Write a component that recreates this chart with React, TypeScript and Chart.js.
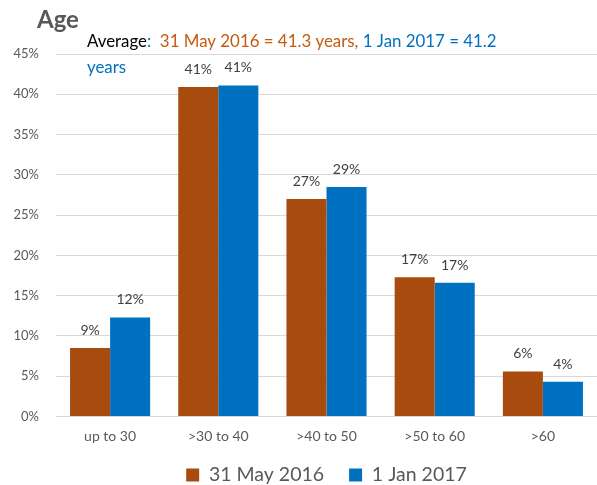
import React, { useEffect, useRef } from "react";
import { Chart, registerables } from "chart.js";

Chart.register(...registerables);

const categories = ["up to 30", ">30 to 40", ">40 to 50", ">50 to 60", ">60"];
const seriesMay2016 = [8.5, 40.9, 27.0, 17.3, 5.6];
const seriesJan2017 = [12.3, 41.1, 28.5, 16.6, 4.3];
const seriesNames = ["31 May 2016", "1 Jan 2017"];
const yTicks = [0, 5, 10, 15, 20, 25, 30, 35, 40, 45];
const titleText = "Age";
const subtitleParts = [
  { text: "Average", color: "#000000" },
  { text: ":  ", color: "#0070C0" },
  { text: "31 May 2016 = 41.3 years, ", color: "#C55A11" },
  { text: "1 Jan 2017 = 41.2", color: "#0070C0" },
];
const subtitleLine2 = { text: "years", color: "#0070C0" };

const ORANGE = "#A84B0F";
const BLUE = "#0070C0";
const FONT = "Lato, 'Open Sans', sans-serif";
const LEGEND_FONT = 19.5;
const LEGEND_PAD = 25;

const titlePlugin = {
  id: "titleText",
  afterDraw(chart: any) {
    const ctx = chart.ctx;
    ctx.save();
    ctx.textBaseline = "alphabetic";
    ctx.textAlign = "left";
    ctx.fillStyle = "#595959";
    ctx.font = `bold 24px ${FONT}`;
    ctx.fillText(titleText, 37, 28);
    ctx.font = `20px ${FONT}`;
    const full = subtitleParts.map((p) => p.text).join("");
    const w = ctx.measureText(full).width;
    const size = (20 * 410) / w;
    ctx.font = `${size}px ${FONT}`;
    let x = 87;
    for (const p of subtitleParts) {
      ctx.fillStyle = p.color;
      ctx.fillText(p.text, x, 47);
      x += ctx.measureText(p.text).width;
    }
    ctx.fillStyle = subtitleLine2.color;
    ctx.fillText(subtitleLine2.text, 87, 73);
    ctx.restore();
  },
};

const dataLabelPlugin = {
  id: "dataLabels",
  afterDatasetsDraw(chart: any) {
    const ctx = chart.ctx;
    ctx.save();
    ctx.font = `14px ${FONT}`;
    ctx.fillStyle = "#404040";
    ctx.textAlign = "center";
    ctx.textBaseline = "alphabetic";
    chart.data.datasets.forEach((ds: any, i: number) => {
      const meta = chart.getDatasetMeta(i);
      meta.data.forEach((bar: any, j: number) => {
        const v = ds.data[j] as number;
        ctx.fillText(Math.round(v) + "%", bar.x, bar.y - 13);
      });
    });
    ctx.restore();
  },
};

const legendFitPlugin = {
  id: "legendFit",
  beforeInit(chart: any) {
    const legend = chart.legend;
    if (!legend) return;
    const orig = legend.fit;
    legend.fit = function () {
      orig.call(this);
      this.height = 39;
    };
  },
  afterLayout(chart: any) {
    const legend = chart.legend;
    if (!legend) return;
    const itemH = LEGEND_FONT * 1.2;
    legend.top = 477 - LEGEND_PAD - itemH / 2;
    legend.bottom = chart.height;
    legend.left = chart.chartArea.left;
    legend.right = chart.chartArea.right;
  },
};

export default function App() {
  const ref = useRef<HTMLCanvasElement | null>(null);
  useEffect(() => {
    document.body.style.margin = "0";
    if (!ref.current) return;
    const chart = new Chart(ref.current, {
      type: "bar",
      data: {
        labels: categories,
        datasets: [
          {
            label: seriesNames[0],
            data: seriesMay2016,
            backgroundColor: ORANGE,
            barPercentage: 1,
            categoryPercentage: 0.74,
          },
          {
            label: seriesNames[1],
            data: seriesJan2017,
            backgroundColor: BLUE,
            barPercentage: 1,
            categoryPercentage: 0.74,
          },
        ],
      },
      options: {
        responsive: false,
        animation: false,
        layout: { padding: { top: 54, right: 0, left: 0, bottom: 0 } },
        plugins: {
          legend: {
            display: true,
            position: "bottom",
            labels: {
              boxWidth: 13,
              boxHeight: 13,
              padding: LEGEND_PAD,
              color: "#595959",
              font: { family: FONT, size: LEGEND_FONT },
            },
          },
          tooltip: { enabled: false },
          title: { display: false },
        },
        scales: {
          x: {
            grid: { display: false, drawTicks: false, tickLength: 0 },
            border: { display: true, color: "#D9D9D9", width: 1 },
            ticks: {
              color: "#595959",
              font: { family: FONT, size: 14 },
              padding: 12,
            },
            afterFit(scale: any) {
              scale.height = 29.5;
            },
          },
          y: {
            min: 0,
            max: 45,
            afterBuildTicks(scale: any) {
              scale.ticks = yTicks.map((v) => ({ value: v }));
            },
            grid: { color: "#D9D9D9", lineWidth: 1, drawTicks: false, tickLength: 0 },
            border: { display: false },
            ticks: {
              color: "#595959",
              font: { family: FONT, size: 13 },
              padding: 17,
              callback: (v: any) => v + "%",
            },
            afterFit(scale: any) {
              scale.width = 56;
            },
          },
        },
      },
      plugins: [titlePlugin, dataLabelPlugin, legendFitPlugin],
    });
    return () => chart.destroy();
  }, []);
  return <canvas ref={ref} width={597} height={485} style={{ display: "block" }} />;
}
